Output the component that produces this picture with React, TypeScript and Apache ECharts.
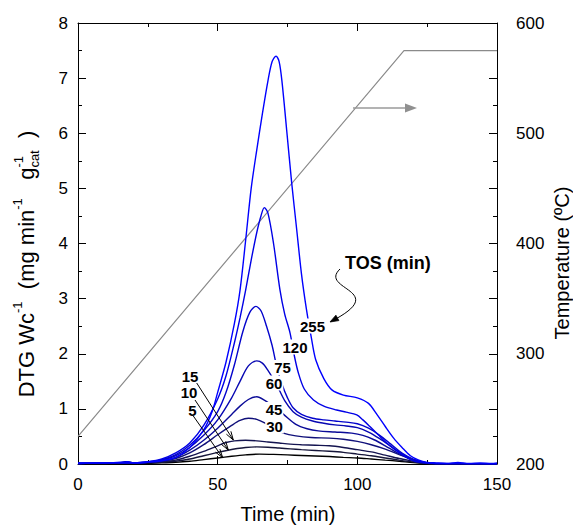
import React, { useEffect, useRef } from 'react';
import * as echarts from 'echarts';

const FONT = '"Liberation Sans", Arial, sans-serif';

// DTG curves (time in min, DTG in mg min-1 gcat-1), one per TOS
const dtg5: number[][] = [[0,0.01],[5,0.0],[10,0.01],[15,0.02],[17,0.04],[19,0.03],[21,0.0],[25,0.01],[30,0.02],[35,0.03],[40,0.05],[45,0.08],[50,0.11],[55,0.14],[60,0.165],[65,0.18],[70,0.175],[75,0.165],[80,0.155],[85,0.145],[90,0.135],[95,0.12],[100,0.11],[105,0.09],[110,0.07],[115,0.05],[120,0.025],[125,0.01],[130,0.005],[150,0.005]];
const dtg10: number[][] = [[0,0.01],[10,0.01],[15,0.02],[20,0.02],[25,0.02],[30,0.03],[35,0.05],[40,0.09],[45,0.15],[50,0.21],[53.7,0.25],[57,0.28],[60,0.3],[64,0.31],[68,0.305],[72,0.29],[76,0.275],[80,0.26],[85,0.245],[90,0.23],[95,0.21],[100,0.18],[105,0.15],[110,0.11],[115,0.07],[120,0.035],[125,0.01],[130,0.005],[150,0.005]];
const dtg15: number[][] = [[0,0.01],[10,0.02],[20,0.02],[25,0.03],[30,0.04],[35,0.07],[40,0.14],[45,0.23],[50,0.33],[53,0.39],[56,0.42],[60,0.43],[64,0.42],[68,0.4],[72,0.38],[76,0.36],[80,0.35],[85,0.34],[90,0.33],[95,0.3],[100,0.26],[105,0.22],[110,0.16],[115,0.1],[120,0.05],[123,0.02],[127,0.005],[150,0.005]];
const dtg30: number[][] = [[0,0.01],[10,0.02],[20,0.02],[25,0.03],[30,0.05],[35,0.1],[40,0.2],[45,0.35],[50,0.53],[55,0.7],[58,0.79],[61,0.83],[64,0.81],[67,0.74],[70,0.64],[73.5,0.56],[78,0.51],[83.5,0.48],[90,0.47],[95,0.45],[100,0.41],[105,0.35],[110,0.27],[115,0.17],[120,0.08],[124,0.03],[128,0.01],[150,0.005]];
const dtg45: number[][] = [[0,0.01],[10,0.02],[20,0.02],[25,0.03],[30,0.06],[35,0.12],[40,0.25],[45,0.43],[50,0.65],[55,0.9],[58,1.05],[61,1.17],[64,1.22],[67,1.15],[70,1.04],[73.6,0.9],[78,0.72],[82,0.64],[86,0.6],[92,0.58],[98,0.56],[102,0.52],[106,0.44],[110,0.33],[114,0.21],[118,0.11],[122,0.04],[126,0.01],[150,0.005]];
const dtg60: number[][] = [[0,0.01],[10,0.02],[20,0.02],[25,0.03],[30,0.07],[35,0.15],[40,0.3],[45,0.52],[50,0.8],[55,1.2],[58,1.5],[61,1.78],[64,1.87],[66,1.83],[68,1.7],[71,1.45],[74,1.15],[77,0.95],[80,0.85],[84,0.78],[88,0.74],[92,0.71],[96,0.69],[100,0.66],[104,0.58],[108,0.46],[112,0.32],[116,0.18],[120,0.08],[124,0.03],[128,0.01],[150,0.005]];
const dtg75: number[][] = [[0,0.01],[10,0.02],[20,0.02],[25,0.03],[30,0.08],[35,0.17],[40,0.34],[45,0.6],[50,0.95],[53,1.3],[56,1.8],[59,2.4],[61.5,2.75],[63.7,2.86],[65.5,2.78],[67.5,2.5],[69.5,2.15],[71,1.8],[73,1.45],[75,1.2],[77,1.02],[80,0.9],[84,0.83],[88,0.8],[92,0.78],[96,0.76],[100,0.73],[104,0.65],[108,0.52],[112,0.36],[116,0.2],[120,0.09],[124,0.03],[128,0.01],[150,0.005]];
const dtg120: number[][] = [[0,0.01],[10,0.02],[20,0.02],[25,0.04],[30,0.09],[35,0.2],[40,0.38],[45,0.7],[50,1.18],[53,1.6],[56,2.2],[58,2.65],[60,3.15],[62,3.7],[64,4.2],[65.5,4.5],[66.7,4.65],[68,4.55],[70,4.0],[72.3,3.16],[74,2.72],[75.9,2.38],[77.5,1.95],[78.9,1.65],[81,1.36],[84.3,1.16],[88,1.05],[92.6,0.98],[96,0.94],[99.8,0.89],[102,0.8],[104.5,0.68],[107.5,0.53],[110.5,0.38],[113.5,0.26],[116.4,0.16],[119,0.08],[121.3,0.04],[125,0.015],[130,0.01],[150,0.005]];
const dtg255: number[][] = [[0,0.02],[10,0.02],[18,0.04],[20,0.02],[25,0.04],[30,0.06],[35,0.12],[40,0.3],[45,0.62],[48,0.95],[50,1.3],[53,1.85],[56,2.55],[58,3.15],[60,4.05],[62,5.0],[64,5.7],[66,6.35],[68,6.95],[69.5,7.3],[70.9,7.4],[72,7.3],[73,6.95],[74.7,6.06],[76.5,5.1],[78.3,4.25],[80,3.45],[81.8,2.8],[83.5,2.3],[85.1,1.89],[88,1.55],[91,1.34],[95,1.25],[100,1.2],[104,1.1],[107,0.9],[110,0.68],[113,0.47],[116,0.3],[119,0.15],[122,0.07],[125,0.03],[128,0.02],[132,0.01],[136,0.03],[140,0.01],[144,0.02],[148,0.01],[150,0.02]];

const tosNames = ['5', '10', '15', '30', '45', '60', '75', '120', '255'];
const tosCurves = [dtg5, dtg10, dtg15, dtg30, dtg45, dtg60, dtg75, dtg120, dtg255];
const tosColors = ['#000000', '#16163a', '#141450', '#10107a', '#0b0b98', '#0707b2', '#0404cc', '#0000e6', '#0000ff'];

// Temperature program (min, °C)
const tempTime = [0, 116.7, 150];
const tempValues = [225, 575, 575];

const xTicks = { min: 0, max: 150, interval: 50 };
const dtgTicks = { min: 0, max: 8, interval: 1 };
const tempTicks = { min: 200, max: 600, interval: 50, labelEvery: 100 };

export default function App() {
  const ref = useRef<HTMLDivElement>(null);
  useEffect(() => {
    if (!ref.current) return;
    const chart = echarts.init(ref.current, undefined, { renderer: 'svg' });
    const axisCommon = {
      axisLine: { show: true, onZero: false, lineStyle: { color: '#000', width: 1 } },
      axisTick: { show: true, inside: true, length: 8, lineStyle: { color: '#000' } },
      minorTick: { show: true, splitNumber: 2, length: 4, lineStyle: { color: '#000' } },
      splitLine: { show: false },
      minorSplitLine: { show: false },
    };
    const labelStyle = { color: '#000', fontSize: 17, fontFamily: FONT };

    const series: any[] = tosCurves.map((d, i) => ({
      name: tosNames[i],
      type: 'line',
      data: d,
      xAxisIndex: 0,
      yAxisIndex: 0,
      showSymbol: false,
      smooth: 0.3,
      lineStyle: { color: tosColors[i], width: 1.4 },
      z: 3 + i,
    }));
    series.push({
      name: 'T',
      type: 'line',
      data: tempTime.map((t, i) => [t, tempValues[i]]),
      xAxisIndex: 0,
      yAxisIndex: 1,
      showSymbol: false,
      lineStyle: { color: '#8a8a8a', width: 1.2 },
      z: 2,
    });

    const numLabel = (text: string, x: number, y: number, bg: boolean) => ({
      type: 'text',
      x,
      y,
      z: 100,
      style: {
        text,
        font: 'bold 15px ' + FONT,
        fill: '#000',
        align: 'center',
        verticalAlign: 'middle',
        backgroundColor: bg ? '#fff' : undefined,
        padding: bg ? [0, 1] : 0,
      },
    });

    const arrowHead = (x1: number, y1: number, x2: number, y2: number, len: number, ang: number) => {
      const a = Math.atan2(y2 - y1, x2 - x1);
      const p1 = [x2 - len * Math.cos(a - ang), y2 - len * Math.sin(a - ang)];
      const p2 = [x2 - len * Math.cos(a + ang), y2 - len * Math.sin(a + ang)];
      return [p1, [x2, y2], p2];
    };

    const blackArrows = [
      [196.7, 383, 233.3, 440],
      [195, 400, 228.3, 450],
      [193.3, 416, 222.7, 457.7],
    ];

    // left axis title pieces, with a stacked sub/superscript after "g"
    const mainSize = 22;
    const smallSize = 13;
    const tokens: [string, string][] = [
      ['m', 'DTG Wc'], ['sup', '-1'], ['m', '  (mg min'], ['sup', '-1'], ['m', '   g'], ['sub', 'cat'], ['m', '  )'],
    ];
    const ctx = document.createElement('canvas').getContext('2d')!;
    const measure = (kind: string, s: string) => {
      ctx.font = (kind === 'm' ? mainSize : smallSize) + 'px "Liberation Sans", Arial, sans-serif';
      return ctx.measureText(s).width;
    };
    const widths = tokens.map(([k, s]) => measure(k, s));
    const total = widths.reduce((a, b) => a + b, 0);
    const titleCx = 26;
    const titleCy = 264;
    const lineH = 30;
    const startY = titleCy + total / 2;
    const catStart = startY - widths.slice(0, 5).reduce((a, b) => a + b, 0);
    const richText = tokens.map(([k, s]) => `{${k}|${s}}`).join('');

    const graphic: any[] = [
      numLabel('255', 312.5, 326, true),
      numLabel('120', 295, 347, true),
      numLabel('75', 282.5, 367.5, true),
      numLabel('60', 274, 383, true),
      numLabel('45', 274, 409.5, true),
      numLabel('30', 274.5, 426, true),
      numLabel('15', 190, 376, false),
      numLabel('10', 189, 392, false),
      numLabel('5', 192.5, 410, false),
      {
        type: 'text', x: 345, y: 263, z: 100,
        style: { text: 'TOS (min)', font: 'bold 18px ' + FONT, fill: '#000', align: 'left', verticalAlign: 'middle' },
      },
      {
        type: 'bezierCurve', z: 100,
        shape: { x1: 340, y1: 269, cpx1: 318, cpy1: 290, cpx2: 392, cpy2: 290, x2: 331, y2: 321.5 },
        style: { stroke: '#000', lineWidth: 1, fill: 'none' },
      },
      {
        type: 'polygon', z: 100,
        shape: { points: arrowHead(348, 312, 330, 322, 9, 0.35) },
        style: { fill: '#000', stroke: '#000', lineWidth: 0.8 },
      },
      ...blackArrows.flatMap(([x1, y1, x2, y2]) => [
        { type: 'line', z: 100, shape: { x1, y1, x2, y2 }, style: { stroke: '#000', lineWidth: 1 } },
        { type: 'polyline', z: 100, shape: { points: arrowHead(x1, y1, x2, y2, 9, 0.3) }, style: { stroke: '#000', lineWidth: 1, fill: 'none' } },
      ]),
      { type: 'line', z: 100, shape: { x1: 353, y1: 108, x2: 406, y2: 108 }, style: { stroke: '#9a9a9a', lineWidth: 1.4 } },
      {
        type: 'polygon', z: 100,
        shape: { points: [[405, 103.5], [417, 108], [405, 112.5]] },
        style: { fill: '#909090' },
      },
      {
        type: 'text', x: 288, y: 514, z: 100,
        style: { text: 'Time (min)', font: '20px ' + FONT, fill: '#000', align: 'center', verticalAlign: 'middle' },
      },
      {
        type: 'text', x: 562, y: 263, z: 100, rotation: Math.PI / 2,
        style: { text: 'Temperature (ºC)', font: '20px ' + FONT, fill: '#000', align: 'center', verticalAlign: 'middle' },
      },
      {
        type: 'text', x: titleCx, y: titleCy, z: 100, rotation: Math.PI / 2,
        style: {
          text: richText,
          align: 'center',
          verticalAlign: 'middle',
          rich: {
            m: { fontSize: mainSize, fontFamily: FONT, fill: '#000', lineHeight: lineH },
            sup: { fontSize: smallSize, fontFamily: FONT, fill: '#000', lineHeight: 15, verticalAlign: 'top' },
            sub: { fontSize: smallSize, fontFamily: FONT, fill: '#000', lineHeight: 13, verticalAlign: 'bottom' },
          },
        },
      },
      {
        type: 'text', x: titleCx - lineH / 2 + 7.5, y: catStart, z: 100, rotation: Math.PI / 2,
        style: { text: '-1', font: smallSize + 'px ' + FONT, fill: '#000', align: 'left', verticalAlign: 'middle' },
      },
    ];

    chart.setOption({
      animation: false,
      grid: { left: 78, right: 76, top: 23, bottom: 61, containLabel: false },
      xAxis: [
        { type: 'value', position: 'bottom', ...xTicks, ...axisCommon, axisLabel: { ...labelStyle, margin: 12 } },
        { type: 'value', position: 'top', ...xTicks, ...axisCommon, axisLabel: { show: false } },
      ],
      yAxis: [
        { type: 'value', position: 'left', min: dtgTicks.min, max: dtgTicks.max, interval: dtgTicks.interval, ...axisCommon, axisLabel: { ...labelStyle, margin: 10 } },
        {
          type: 'value', position: 'right', min: tempTicks.min, max: tempTicks.max, interval: tempTicks.interval, ...axisCommon,
          axisLabel: { ...labelStyle, margin: 19, formatter: (v: number) => (v % tempTicks.labelEvery === 0 ? String(v) : '') },
        },
      ],
      series,
      graphic,
    });
    return () => chart.dispose();
  }, []);
  return <div ref={ref} style={{ position: 'fixed', left: 0, top: 0, width: 573, height: 525, background: '#fff' }} />;
}
